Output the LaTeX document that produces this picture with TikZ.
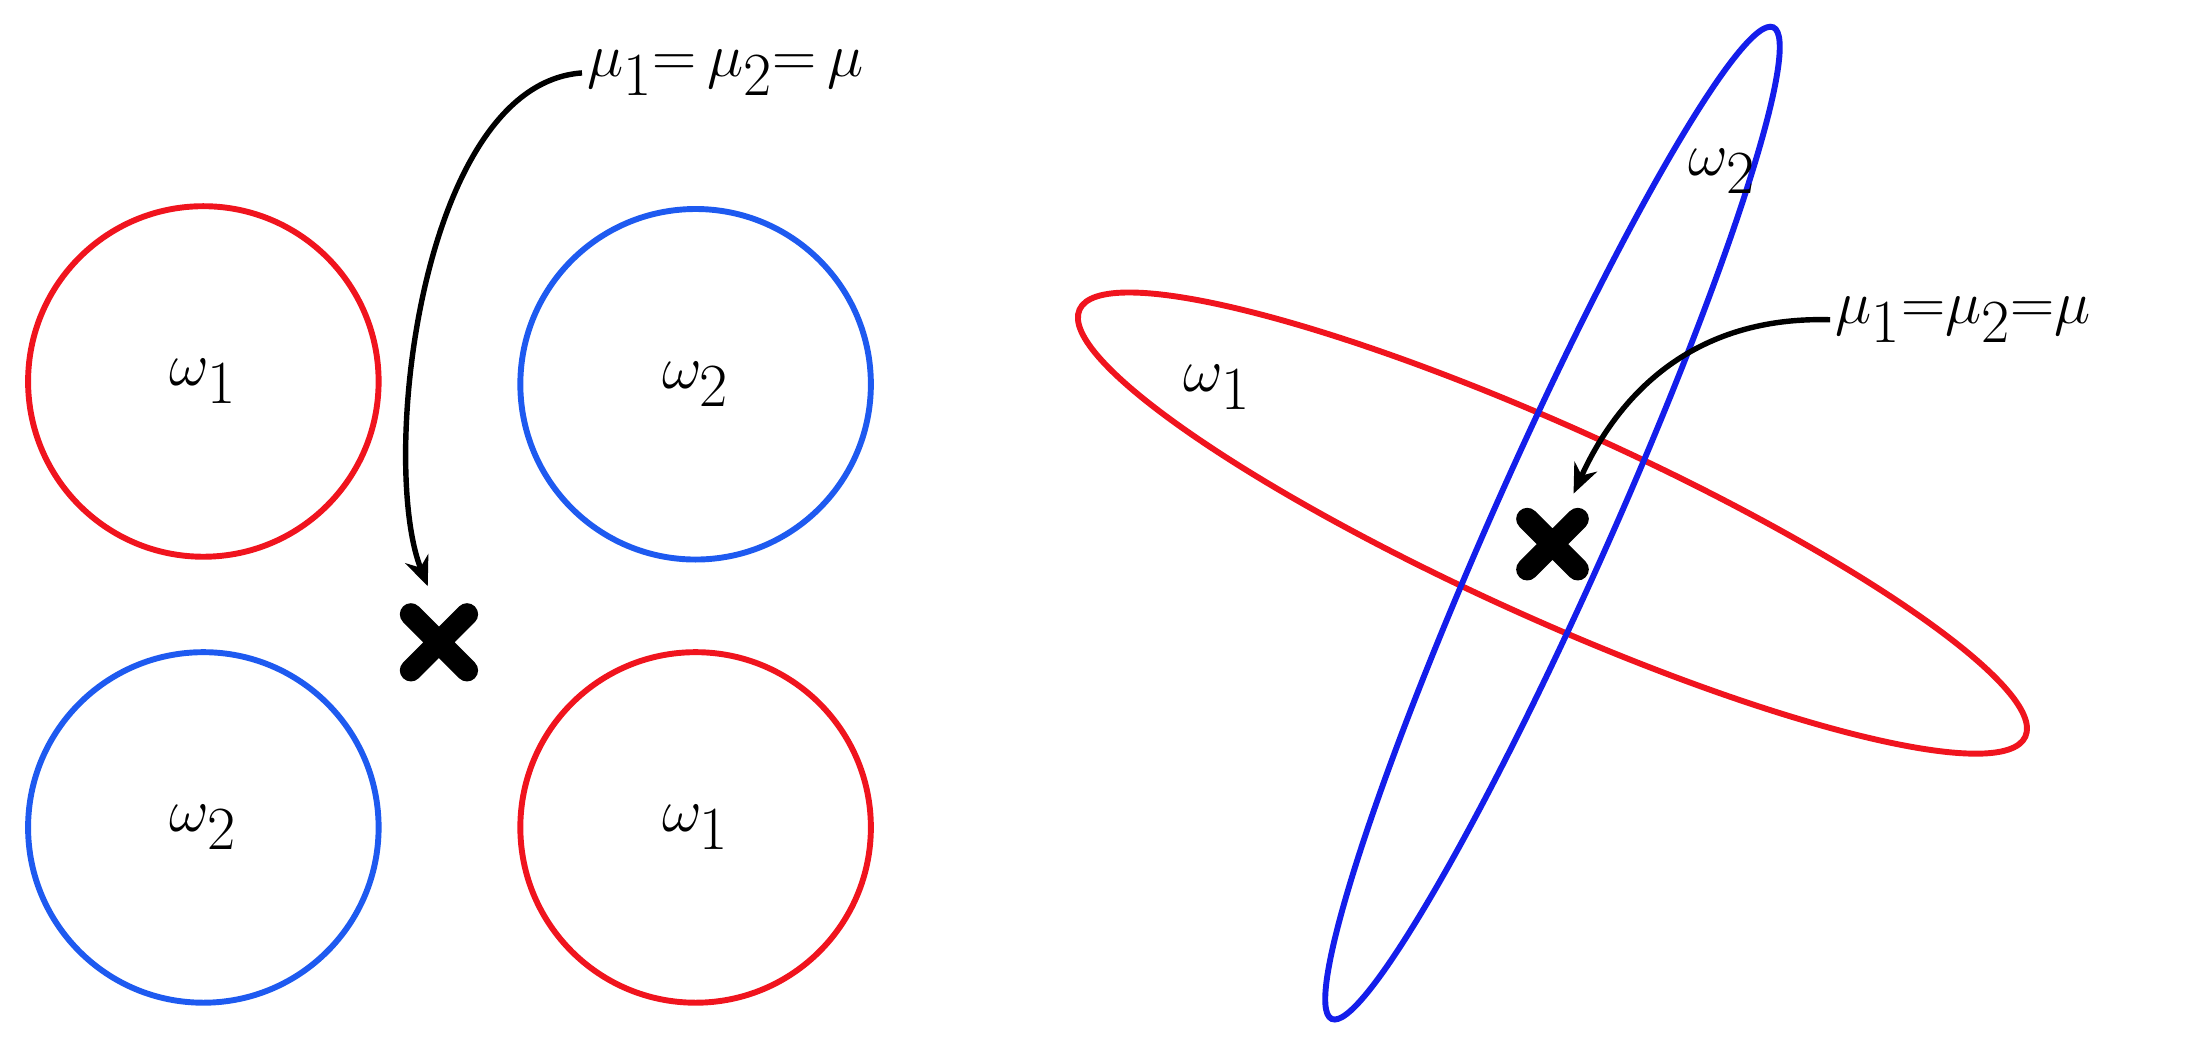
\documentclass[tikz,border=0pt]{standalone}
\usepackage{tikz}
\usetikzlibrary{calc,arrows.meta}
\definecolor{cred}{RGB}{240,20,30}
\definecolor{cblue}{RGB}{30,90,240}
\definecolor{dblue}{RGB}{20,30,235}
\begin{document}
\begin{tikzpicture}[x=0.02cm,y=-0.02cm,
  circ/.style={draw,line width=2.4pt,circle,minimum size=5cm,inner sep=0pt,font=\fontsize{44}{50}\selectfont},
  lbl/.style={font=\fontsize{40}{46}\selectfont},
  slbl/.style={font=\fontsize{34}{40}\selectfont},
  crossline/.style={line width=9pt,line cap=round},
  arr/.style={line width=2.2pt,-{Stealth[length=12pt,width=10pt]}}]
\useasboundingbox (0,0) rectangle (1568,751);
\node[circ,draw=cred] (c1) at (145,272) {$\omega_1$};
\node[circ,draw=cblue] (c2) at (496,274) {$\omega_2$};
\node[circ,draw=cblue] (c3) at (145,590) {$\omega_2$};
\node[circ,draw=cred] (c4) at (496,590) {$\omega_1$};
\coordinate (x1) at (313,458);
\draw[crossline] ($(x1)+(-20,-20)$) -- ($(x1)+(20,20)$) ($(x1)+(-20,20)$) -- ($(x1)+(20,-20)$);
\node[lbl,anchor=west,inner sep=2pt] (m1) at (415,52) {$\mu_1 {=}\, \mu_2 {=}\, \mu$};
\draw[arr] (m1.west) .. controls (300,60) and (270,330) .. (305,418);
\coordinate (ec) at (1107,373);
\draw[cred,line width=2.4pt,rotate around={-24.3:(ec)}] (ec) ellipse (370 and 68);
\draw[dblue,line width=2.4pt,rotate around={66:(ec)}] (ec) ellipse (387 and 42);
\node[slbl] (w1) at (868,276) {$\omega_1$};
\node[slbl] (w2) at (1228,122) {$\omega_2$};
\coordinate (x2) at (1107,388);
\draw[crossline] ($(x2)+(-18,-18)$) -- ($(x2)+(18,18)$) ($(x2)+(-18,18)$) -- ($(x2)+(18,-18)$);
\node[slbl,anchor=west,inner sep=2pt] (m2) at (1305,228) {$\mu_1{=}\mu_2{=}\mu$};
\draw[arr] (m2.west) .. controls (1200,225) and (1150,290) .. (1122,352);
\end{tikzpicture}
\end{document}
